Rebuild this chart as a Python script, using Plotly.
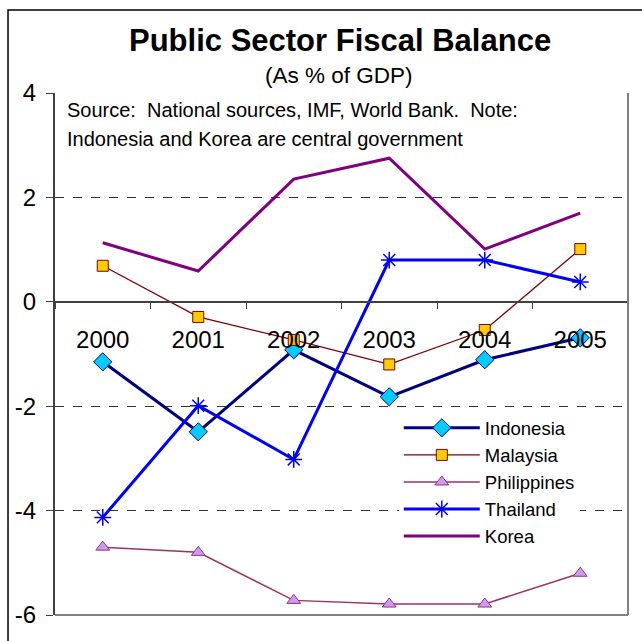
import plotly.graph_objects as go

years = ["2000", "2001", "2002", "2003", "2004", "2005"]
indonesia = [-1.15, -2.49, -0.92, -1.82, -1.11, -0.69]
malaysia = [0.69, -0.29, -0.73, -1.20, -0.54, 1.01]
philippines = [-4.70, -4.80, -5.72, -5.79, -5.79, -5.20]
thailand = [-4.13, -1.99, -3.02, 0.80, 0.80, 0.38]
korea = [1.13, 0.59, 2.35, 2.75, 1.01, 1.70]
y_ticks = [-6, -4, -2, 0, 2, 4]

FONT = "Liberation Sans, Arial, sans-serif"
NB = "\u00a0"

fig = go.Figure()
fig.add_trace(go.Scatter(x=years, y=indonesia, name="Indonesia", mode="lines+markers",
                         line=dict(color="#000080", width=3),
                         marker=dict(symbol="diamond", size=14, color="#00CCFF",
                                     line=dict(color="#000080", width=1))))
fig.add_trace(go.Scatter(x=years, y=malaysia, name="Malaysia", mode="lines+markers",
                         line=dict(color="#800000", width=1.3),
                         marker=dict(symbol="square", size=11, color="#FFCC00",
                                     line=dict(color="#800000", width=1))))
fig.add_trace(go.Scatter(x=years, y=philippines, name="Philippines", mode="lines+markers",
                         line=dict(color="#993366", width=1.5),
                         marker=dict(symbol="triangle-up", size=12, color="#CC99FF",
                                     line=dict(color="#993366", width=1))))
fig.add_trace(go.Scatter(x=years, y=thailand, name="Thailand", mode="lines+markers",
                         line=dict(color="#0000FF", width=3),
                         marker=dict(symbol="asterisk-open", size=14, color="#0000FF",
                                     line=dict(color="#0000FF", width=1.5))))
fig.add_trace(go.Scatter(x=years, y=korea, name="Korea", mode="lines",
                         line=dict(color="#800080", width=3)))

fig.update_layout(
    width=642, height=641,
    margin=dict(l=55, r=14, t=93, b=26),
    paper_bgcolor="white", plot_bgcolor="white",
    font=dict(family=FONT, color="black"),
    showlegend=True,
    legend=dict(x=0.60, y=0.394, xanchor="left", yanchor="top",
                bgcolor="white", borderwidth=0,
                font=dict(family=FONT, size=18.5, color="black"),
                itemwidth=76, tracegroupgap=0),
    xaxis=dict(type="category", anchor="free", position=0.6,
               showline=True, linecolor="#404040", linewidth=2,
               ticks="outside", tickson="boundaries", ticklen=6, tickcolor="#404040",
               tickfont=dict(size=24, family=FONT), ticklabelstandoff=16,
               showgrid=False, range=[-0.5, 5.5]),
    yaxis=dict(range=[-6, 4], tickvals=y_ticks, ticktext=[str(v) for v in y_ticks],
               showline=True, linecolor="#404040", linewidth=2,
               ticks="outside", ticklen=7, tickcolor="#404040",
               tickfont=dict(size=24, family=FONT), ticklabelstandoff=5,
               showgrid=True, gridcolor="#333333", griddash="dash", gridwidth=1,
               zeroline=False),
    annotations=[
        dict(text="<b>Public Sector Fiscal Balance</b>", x=0.498, y=1.1015,
             xref="paper", yref="paper", xanchor="center", yanchor="middle",
             showarrow=False, font=dict(size=31, family=FONT)),
        dict(text="(As % of GDP)", x=0.4956, y=1.0326, xref="paper", yref="paper",
             xanchor="center", yanchor="middle", showarrow=False,
             font=dict(size=22.5, family=FONT)),
        dict(text="Source:" + NB + NB + "National sources, IMF, World Bank." + NB + NB + "Note:",
             x=0.0175, y=0.9674,
             xref="paper", yref="paper", xanchor="left", yanchor="middle",
             showarrow=False, font=dict(size=20, family=FONT)),
        dict(text="Indonesia and Korea are central government", x=0.0175, y=0.9119,
             xref="paper", yref="paper", xanchor="left", yanchor="middle",
             showarrow=False, font=dict(size=20, family=FONT)),
    ],
    shapes=[
        dict(type="line", xref="paper", yref="paper", x0=1, x1=1, y0=0, y1=1,
             line=dict(color="#808080", width=2)),
        dict(type="line", xref="paper", yref="paper", x0=0, x1=1, y0=0, y1=0,
             line=dict(color="#808080", width=2)),
        dict(type="rect", xref="paper", yref="paper", x0=-0.082, x1=1.1, y0=-0.2, y1=1.159,
             line=dict(color="black", width=1.5), layer="above"),
    ],
)

fig.write_html("out.html")
